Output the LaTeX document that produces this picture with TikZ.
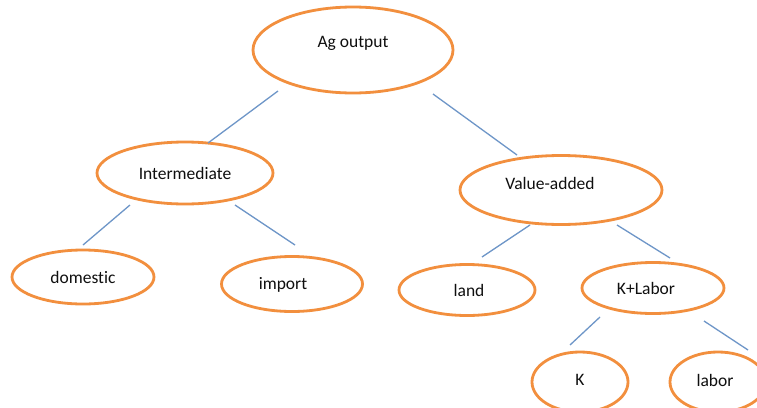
\documentclass[tikz,border=0pt]{standalone}
\usepackage{fontspec}
\setmainfont{Carlito}[Ligatures={NoCommon,NoRare}]
\usetikzlibrary{shapes.geometric,calc}
\definecolor{ovalorange}{RGB}{242,143,62}
\definecolor{linkblue}{RGB}{110,150,200}
\definecolor{txtgray}{RGB}{15,15,15}
\begin{document}
\begin{tikzpicture}[x=1pt,y=-1pt,
  oval/.style={ellipse,draw=ovalorange,line width=2.8pt,fill=white,inner sep=0pt,outer sep=0pt},
  lbl/.style={text=txtgray,font=\fontsize{17.5}{20}\selectfont,inner sep=0pt},
  conn/.style={draw=linkblue,line width=1.3pt}]
\useasboundingbox (0,0) rectangle (757,407);
\clip (0,0) rectangle (757,407);
\fill[white] (0,0) rectangle (757,407);
% nodes
\node[oval,minimum width=200pt,minimum height=86pt,label={[lbl,shift={(0pt,7pt)}]center:Ag output}] (ag) at (353,50) {};
\node[oval,minimum width=176pt,minimum height=62pt,label={[lbl]center:Intermediate}] (int) at (185,173) {};
\node[oval,minimum width=202pt,minimum height=69pt,label={[lbl,shift={(-11pt,7pt)}]center:Value-added}] (va) at (561,190) {};
\node[oval,minimum width=142pt,minimum height=54pt,label={[lbl]center:domestic}] (dom) at (83,277) {};
\node[oval,minimum width=141pt,minimum height=55pt,label={[lbl,shift={(-9pt,-1pt)}]center:import}] (imp) at (292,284) {};
\node[oval,minimum width=136pt,minimum height=51pt,label={[lbl,shift={(2pt,0pt)}]center:land}] (land) at (467,290) {};
\node[oval,minimum width=142pt,minimum height=51pt,label={[lbl,shift={(-7pt,0pt)}]center:K+Labor}] (kl) at (653,288) {};
\node[oval,minimum width=96pt,minimum height=60pt,label={[lbl,shift={(0pt,2pt)}]center:K}] (k) at (580,382) {};
\node[oval,minimum width=96pt,minimum height=60pt,label={[lbl,shift={(-3pt,2pt)}]center:labor}] (lab) at (718,382) {};
% connectors
\draw[conn] ($(ag.center)+(-75,41)$) -- ($(int.center)+(23,-30)$);
\draw[conn] ($(ag.center)+(80,44)$) -- ($(va.center)+(-44,-35)$);
\draw[conn] ($(int.center)+(-55,32)$) -- ($(dom.center)+(0,-32)$);
\draw[conn] ($(int.center)+(50,32)$) -- ($(imp.center)+(3,-39)$);
\draw[conn] ($(va.center)+(-31,35)$) -- ($(land.center)+(15,-33)$);
\draw[conn] ($(va.center)+(56,35)$) -- ($(kl.center)+(17,-30)$);
\draw[conn] ($(kl.center)+(-53,29)$) -- ($(k.center)+(-10,-37)$);
\draw[conn] ($(kl.center)+(51,33)$) -- ($(lab.center)+(30,-32)$);
\end{tikzpicture}
\end{document}
